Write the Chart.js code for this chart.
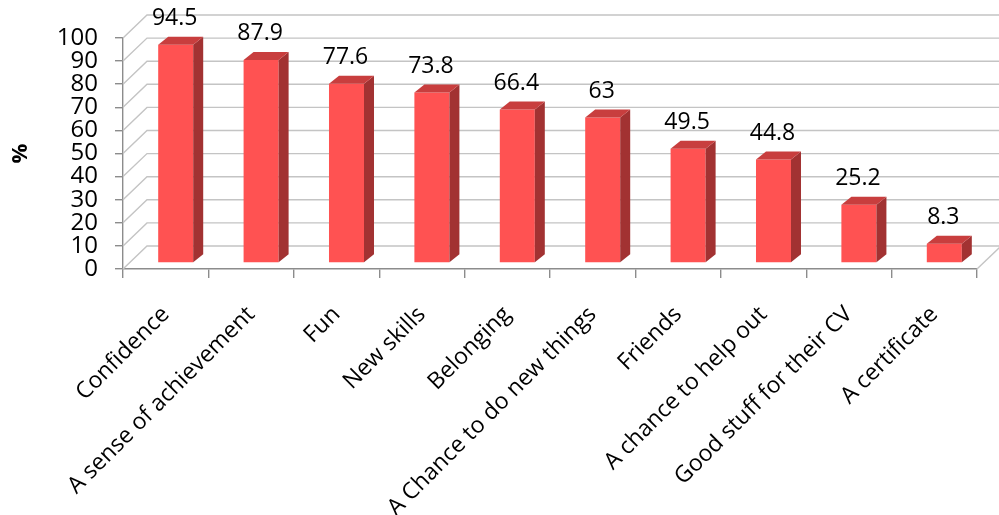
<!DOCTYPE html>
<html>
<head>
<meta charset="utf-8">
<script src="https://cdn.jsdelivr.net/npm/chart.js@4"></script>
<style>
  html, body { margin: 0; padding: 0; background: #fff; }
  #wrap { width: 999px; height: 515px; }
</style>
</head>
<body>
<div id="wrap"><canvas id="reasons-chart"></canvas></div>
<script>
const categories = ['Confidence', 'A sense of achievement', 'Fun', 'New skills', 'Belonging',
  'A Chance to do new things', 'Friends', 'A chance to help out', 'Good stuff for their CV', 'A certificate'];
const percentages = [94.5, 87.9, 77.6, 73.8, 66.4, 63, 49.5, 44.8, 25.2, 8.3];
const yMin = 0;
const yMax = 100;
const yStep = 10;

const FONT = "'Open Sans', 'DejaVu Sans', sans-serif";

// fake 3d: wall depth, bar depth and how far into the floor the bars sit
const wall = { dx: 24, dy: 23 };
const bar3d = { dx: 10, dy: 8, ox: 10, oy: 6 };
const colors = { front: '#FF5252', side: '#A23232', top: '#C83E3E', grid: '#C4C4C4', axis: '#8C8C8C' };

const walls = {
  id: 'walls',
  beforeDatasetsDraw(chart) {
    const { ctx, chartArea: a, scales: { y } } = chart;
    ctx.save();
    ctx.lineWidth = 1.4;
    ctx.strokeStyle = colors.grid;
    for (let v = yMin; v <= yMax; v += yStep) {
      const py = y.getPixelForValue(v);
      ctx.beginPath();
      ctx.moveTo(a.left, py);
      ctx.lineTo(a.left + wall.dx, py - wall.dy);
      ctx.lineTo(a.right + wall.dx + 5, py - wall.dy);
      ctx.stroke();
    }
    // floor right edge
    ctx.beginPath();
    ctx.moveTo(a.right, a.bottom);
    ctx.lineTo(a.right + wall.dx, a.bottom - wall.dy);
    ctx.stroke();
    ctx.restore();

    // bars sit a little back from the front edge
    ctx.save();
    ctx.translate(bar3d.ox, -bar3d.oy);
  },
  afterDatasetsDraw(chart) {
    const { ctx } = chart;
    const meta = chart.getDatasetMeta(0);
    meta.data.forEach((b) => {
      const { x, y, base, width } = b.getProps(['x', 'y', 'base', 'width'], true);
      const l = x - width / 2, r = x + width / 2;
      // side face
      ctx.fillStyle = colors.side;
      ctx.beginPath();
      ctx.moveTo(r, y);
      ctx.lineTo(r + bar3d.dx, y - bar3d.dy);
      ctx.lineTo(r + bar3d.dx, base - bar3d.dy);
      ctx.lineTo(r, base);
      ctx.closePath();
      ctx.fill();
      // top face
      ctx.fillStyle = colors.top;
      ctx.beginPath();
      ctx.moveTo(l, y);
      ctx.lineTo(l + bar3d.dx, y - bar3d.dy);
      ctx.lineTo(r + bar3d.dx, y - bar3d.dy);
      ctx.lineTo(r, y);
      ctx.closePath();
      ctx.fill();
    });
    ctx.restore();

    // value labels
    ctx.save();
    ctx.font = '23px ' + FONT;
    ctx.fillStyle = '#000';
    ctx.textAlign = 'center';
    ctx.textBaseline = 'middle';
    meta.data.forEach((b, i) => {
      ctx.fillText(String(percentages[i]), b.x + bar3d.ox - 1, b.y - bar3d.oy - 26);
    });
    ctx.restore();
  }
};

new Chart(document.getElementById('reasons-chart'), {
  type: 'bar',
  data: {
    labels: categories,
    datasets: [{
      data: percentages,
      backgroundColor: colors.front,
      borderWidth: 0,
      barPercentage: 0.41,
      categoryPercentage: 1,
      clip: false
    }]
  },
  options: {
    responsive: true,
    maintainAspectRatio: false,
    animation: false,
    layout: { padding: { top: 38, right: 22, left: 0, bottom: 0 } },
    plugins: {
      legend: { display: false },
      tooltip: { enabled: false }
    },
    scales: {
      x: {
        afterFit(scale) { scale.height = 246; },
        grid: { drawOnChartArea: false, tickLength: 9, color: colors.axis, lineWidth: 1.4 },
        border: { color: colors.axis, width: 1.4 },
        ticks: {
          minRotation: 45,
          maxRotation: 45,
          autoSkip: false,
          padding: 23,
          color: '#000',
          font: { family: FONT, size: 23 }
        }
      },
      y: {
        min: yMin,
        max: yMax,
        afterFit(scale) { scale.width = 123; },
        grid: { drawOnChartArea: false, tickLength: 8, color: colors.axis, lineWidth: 1.4 },
        border: { color: colors.axis, width: 1.4 },
        ticks: {
          stepSize: yStep,
          autoSkip: false,
          padding: 17,
          color: '#000',
          font: { family: FONT, size: 24 }
        },
        title: {
          display: true,
          text: '%',
          color: '#000',
          padding: { top: 8, bottom: 0 },
          font: { family: FONT, size: 22, weight: 'bold' }
        }
      }
    }
  },
  plugins: [walls]
});
</script>
</body>
</html>
